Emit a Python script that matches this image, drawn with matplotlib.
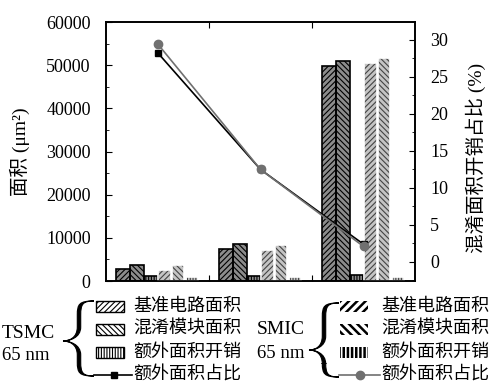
import numpy as np
import matplotlib
matplotlib.use("Agg")
import matplotlib.pyplot as plt
from matplotlib.patches import Rectangle, Polygon
from matplotlib.path import Path
from matplotlib.ticker import MultipleLocator, FixedLocator

plt.rcParams['font.family'] = ['Liberation Serif', 'Noto Sans CJK SC']
plt.rcParams['hatch.linewidth'] = 0.8

# 数据
groups = [0, 1, 2]
tsmc_base = [2700, 7480, 49800]
tsmc_obf = [3700, 8560, 51000]
tsmc_extra = [1150, 1150, 1300]
smic_base = [2500, 7170, 50600]
smic_obf = [3700, 8250, 51700]
smic_extra = [950, 850, 900]
tsmc_ratio = [28.3, 12.5, 2.4]
smic_ratio = [29.5, 12.5, 2.1]

labels = ['基准电路面积', '混淆模块面积', '额外面积开销', '额外面积占比']
hatches = ['//////', '\\\\\\\\\\\\', '||||||']

fig = plt.figure(figsize=(4.94, 3.86), dpi=100)
ax = fig.add_axes([0.2146, 0.272, 0.6255, 0.671])
ax2 = ax.twinx()

offsets = [-0.335, -0.2, -0.065, 0.07, 0.2, 0.335]
series = [tsmc_base, tsmc_obf, tsmc_extra, smic_base, smic_obf, smic_extra]
x = np.array(groups)
for i, vals in enumerate(series):
    tsmc = i < 3
    face = '#8c8c8c' if tsmc else '#c4c4c4'
    hcol = 'black' if tsmc else '#444444'
    edge = 'black' if tsmc else 'white'
    w = 0.133 if tsmc else 0.122
    ax.bar(x + offsets[i], vals, w, color=face, edgecolor=hcol,
           hatch=hatches[i % 3], linewidth=0, zorder=2)
    ax.bar(x + offsets[i], vals, w, fill=False, edgecolor=edge,
           linewidth=1.2, zorder=3)

ax.set_xlim(-0.5, 2.5)
ax.set_ylim(0, 60000)
ax.yaxis.set_major_locator(MultipleLocator(10000))
ax.yaxis.set_minor_locator(MultipleLocator(5000))
ax.xaxis.set_major_locator(FixedLocator([0.5, 1.5]))
ax.set_xticklabels([])
ax.tick_params(axis='x', which='both', direction='in', top=True, length=4)
ax.tick_params(axis='y', which='major', direction='in', length=4, labelsize=13, pad=11)
ax.tick_params(axis='y', which='minor', direction='in', length=2.5)
ax.set_ylabel('面积 (μm²)', fontsize=14)
ax.yaxis.set_label_coords(-0.245, 0.5)

ax2.plot(x, tsmc_ratio, color='black', lw=1.2, marker='s', ms=5,
         mfc='black', mec='black', zorder=5)
ax2.plot(x, smic_ratio, color='#707070', lw=1.2, marker='o', ms=6,
         mfc='#707070', mec='#707070', zorder=5)
ax2.set_ylim(-2.57, 32.43)
ax2.yaxis.set_major_locator(MultipleLocator(5))
ax2.yaxis.set_minor_locator(MultipleLocator(2.5))
ax2.tick_params(axis='y', which='major', direction='in', length=4, labelsize=13, pad=11)
ax2.tick_params(axis='y', which='minor', direction='in', length=2.5)
ax2.set_ylabel('混淆面积开销占比 (%)', fontsize=14, rotation=90)
ax2.yaxis.set_label_coords(1.165, 0.475)

for a in (ax, ax2):
    for s in a.spines.values():
        s.set_linewidth(1.2)

# 图例 (像素坐标)
lg = fig.add_axes([0, 0, 1, 1])
lg.set_xlim(0, 494)
lg.set_ylim(386, 0)
lg.axis('off')


def brace_line(x_end, xs, x_tip, y_top, y_mid, y_bot, r=14, r2=14):
    verts = [(x_end, y_top),
             (xs + 2, y_top), (xs, y_top + 3), (xs, y_top + r),
             (xs, y_mid - r2),
             (xs, y_mid - 3), (x_tip + 6, y_mid), (x_tip, y_mid),
             (x_tip + 6, y_mid), (xs, y_mid + 3), (xs, y_mid + r2),
             (xs, y_bot - r),
             (xs, y_bot - 3), (xs + 2, y_bot), (x_end, y_bot)]
    codes = [Path.MOVETO,
             Path.CURVE4, Path.CURVE4, Path.CURVE4,
             Path.LINETO,
             Path.CURVE4, Path.CURVE4, Path.CURVE4,
             Path.CURVE4, Path.CURVE4, Path.CURVE4,
             Path.LINETO,
             Path.CURVE4, Path.CURVE4, Path.CURVE4]
    return Path(verts, codes).to_polygons(closed_only=False)[0]


def brace(x_end, xs, x_tip, y_top, y_mid, y_bot):
    outer = brace_line(x_end, xs - 1.7, x_tip, y_top, y_mid, y_bot)
    inner = brace_line(x_end, xs + 1.7, x_tip, y_top, y_mid, y_bot)
    lg.add_patch(Polygon(np.vstack([outer, inner[::-1]]), closed=True,
                         facecolor='black', edgecolor='black', lw=0.8))


rows = [306, 329, 352, 375]
legend_sets = [
    dict(name='TSMC', x0=2, name_y=(334, 356), brace=(94, 79, 63, 301, 341, 376),
         px=96, tx=133, hlw=0.8, border=True, lc='black', mk='s', ms=5),
    dict(name='SMIC', x0=257, name_y=(330, 354), brace=(339, 324, 309, 303, 350, 377),
         px=340, tx=381, hlw=1.8, border=False, lc='#707070', mk='o', ms=6),
]
leg_hatches = [['//////', '\\\\\\\\\\\\', '||||||'], ['////', '\\\\\\\\', '||||']]
for k, d in enumerate(legend_sets):
    lg.text(d['x0'], d['name_y'][0], d['name'], fontsize=14, va='center', ha='left')
    lg.text(d['x0'], d['name_y'][1], '65 nm', fontsize=13.5, va='center', ha='left')
    brace(*d['brace'])
    for j in range(3):
        with plt.rc_context({'hatch.linewidth': d['hlw']}):
            lg.add_patch(Rectangle((d['px'], rows[j] - 5.5), 28, 11, facecolor='white',
                                   edgecolor='black', hatch=leg_hatches[k][j], lw=0))
        if d['border']:
            lg.add_patch(Rectangle((d['px'], rows[j] - 5.5), 28, 11, fill=False,
                                   edgecolor='black', lw=1.0))
    ly = rows[3]
    lg.plot([d['brace'][0], d['tx'] - 1], [ly, ly], color=d['lc'], lw=1.2)
    lg.plot([(d['brace'][0] + d['tx']) / 2], [ly], marker=d['mk'], ms=d['ms'],
            color=d['lc'])
    for j in range(4):
        lg.text(d['tx'], rows[j], labels[j], fontsize=13, va='center', ha='left')

fig.savefig('out.png', dpi=100)
